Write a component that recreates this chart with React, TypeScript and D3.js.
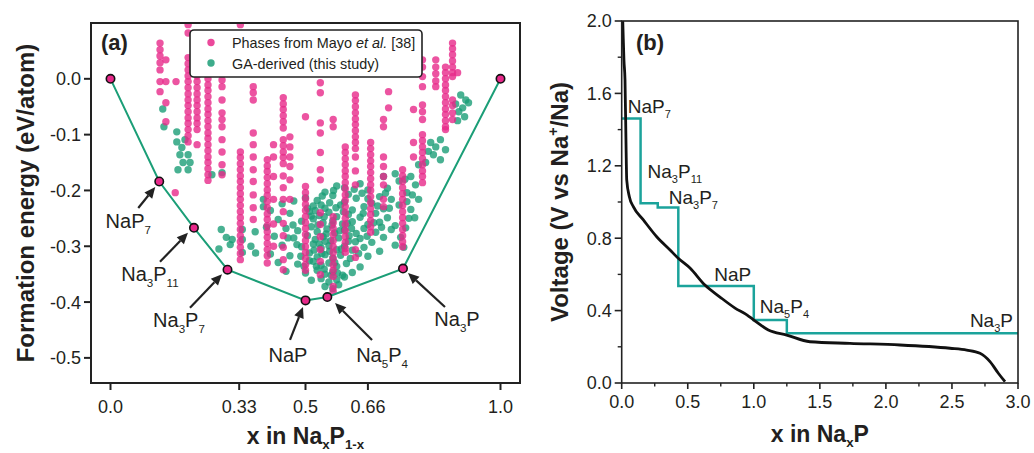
import React from "react";
import * as d3 from "d3";

// ---------- Panel (a) data ----------
const hullNames = ["P", "NaP_{7}", "Na_{3}P_{11}", "Na_{3}P_{7}", "NaP", "Na_{5}P_{4}", "Na_{3}P", "Na"];
const hullX = [0, 0.125, 0.214, 0.3, 0.5, 0.556, 0.75, 1.0];
const hullY = [0, -0.184, -0.267, -0.342, -0.397, -0.391, -0.34, 0];

const xTicksA = [0, 0.33, 0.5, 0.66, 1.0];
const xTickLabelsA = ["0.0", "0.33", "0.5", "0.66", "1.0"];
const yTicksA = [0, -0.1, -0.2, -0.3, -0.4, -0.5];
const yTickLabelsA = ["0.0", "-0.1", "-0.2", "-0.3", "-0.4", "-0.5"];

// Phases from Mayo et al. : columns of composition x with formation energies
const pinkColX = [0.127, 0.142, 0.166, 0.168, 0.199, 0.222, 0.25, 0.286, 0.333, 0.366, 0.402, 0.418, 0.443, 0.46, 0.5, 0.538, 0.571, 0.602, 0.628, 0.667, 0.7, 0.713, 0.749, 0.777, 0.8, 0.834, 0.859, 0.877, 0.89];
const pinkColY = [
  [0.064, 0.052, 0.041, 0.029, 0.016, -0.005, -0.023],
  [0.034, -0.005, -0.043, -0.077],
  [-0.204],
  [-0.005],
  [0.097, 0.082, 0.038, 0.027, 0.016, 0.005, -0.005, -0.016, -0.027, -0.038, -0.048, -0.059, -0.07, -0.08, -0.091, -0.102, -0.113],
  [0.016, 0.005, -0.005, -0.016, -0.027, -0.038, -0.048, -0.059, -0.07, -0.08, -0.091, -0.118],
  [0.021, 0.011, 0, -0.011, -0.021, -0.032, -0.043, -0.054, -0.064, -0.075, -0.086, -0.097, -0.107, -0.118, -0.129, -0.14, -0.15, -0.161, -0.172, -0.182],
  [0.016, -0.002, -0.014, -0.038, -0.061, -0.073, -0.086, -0.109, -0.131, -0.154, -0.172],
  [0.097, -0.131, -0.141, -0.152, -0.163, -0.174, -0.184, -0.195, -0.206, -0.216, -0.227, -0.238, -0.249, -0.259, -0.27, -0.281, -0.292, -0.302, -0.313, -0.324],
  [-0.014, -0.025, -0.038, -0.097, -0.118, -0.14, -0.163, -0.184, -0.208, -0.231, -0.252],
  [-0.145, -0.156, -0.166, -0.177, -0.188, -0.199, -0.209, -0.22, -0.231, -0.242, -0.252, -0.263, -0.274, -0.284, -0.295, -0.306, -0.317, -0.33],
  [-0.118, -0.14, -0.175, -0.216, -0.26, -0.3],
  [-0.034, -0.045, -0.055, -0.066, -0.077, -0.088, -0.109, -0.12, -0.131, -0.141, -0.152, -0.174, -0.195, -0.216, -0.238, -0.259, -0.281, -0.302, -0.324, -0.342],
  [-0.104, -0.122, -0.14, -0.157, -0.181, -0.216],
  [-0.068, -0.193, -0.204, -0.215, -0.225, -0.236, -0.247, -0.258, -0.268, -0.279, -0.29, -0.301, -0.311, -0.322, -0.333, -0.343],
  [-0.007, -0.025, -0.079, -0.097, -0.132, -0.163, -0.181, -0.24, -0.261, -0.283, -0.306, -0.327, -0.351],
  [-0.073, -0.086, -0.247, -0.258, -0.268, -0.279, -0.29, -0.301, -0.311, -0.322, -0.333, -0.343, -0.354, -0.372, -0.381],
  [-0.122, -0.132, -0.143, -0.154, -0.165, -0.175, -0.186, -0.197, -0.208, -0.218, -0.229, -0.24, -0.25, -0.261, -0.272, -0.283, -0.293, -0.304, -0.311],
  [-0.029, -0.039, -0.05, -0.061, -0.072, -0.082, -0.093, -0.104, -0.114, -0.125, -0.14, -0.165, -0.19, -0.306, -0.32],
  [-0.114, -0.125, -0.136, -0.147, -0.157, -0.168, -0.179, -0.19, -0.2, -0.211, -0.222, -0.233, -0.243, -0.254, -0.265, -0.275],
  [-0.073, -0.086, -0.14, -0.157, -0.175, -0.19, -0.216, -0.229],
  [-0.023, -0.052],
  [-0.163, -0.174, -0.184, -0.195, -0.206, -0.216, -0.227, -0.238, -0.249, -0.259, -0.27, -0.281, -0.292, -0.301],
  [-0.055, -0.114, -0.14],
  [0.034, 0.021, 0.004, -0.014, -0.047, -0.059, -0.073, -0.1, -0.111, -0.122, -0.132, -0.143, -0.154, -0.165, -0.175, -0.186],
  [0.034, 0.021, 0.009, -0.004, -0.014],
  [0.021, 0.011, 0, -0.011, -0.021, -0.032, -0.043, -0.054, -0.064, -0.075, -0.086, -0.091],
  [0.064, 0.054, 0.043, 0.032, 0.021, 0.011, 0.004, -0.038, -0.048, -0.061, -0.073],
  [0.011],
];

// GA-derived structures (this study): [x, formation energy]
const greenPoints: [number, number][] = [
  [0.134, -0.054], [0.137, -0.086], [0.17, -0.095], [0.17, -0.113], [0.183, -0.123], [0.191, -0.109], [0.178, -0.136],
  [0.199, -0.136], [0.186, -0.15], [0.204, -0.15], [0.173, -0.163], [0.199, -0.163], [0.26, -0.172], [0.286, -0.168],
  [0.284, -0.27], [0.297, -0.284], [0.307, -0.297], [0.312, -0.288], [0.278, -0.305], [0.338, -0.27], [0.338, -0.288],
  [0.338, -0.311], [0.371, -0.274], [0.392, -0.216], [0.392, -0.229], [0.36, -0.3], [0.372, -0.312],
  [0.58, -0.192], [0.64, -0.188], [0.71, -0.196], [0.74, -0.183], [0.70, -0.175], [0.73, -0.17], [0.755, -0.18],
  [0.55, -0.203], [0.61, -0.207], [0.66, -0.199], [0.69, -0.211], [0.76, -0.204],
  [0.50, -0.213], [0.53, -0.218], [0.57, -0.209], [0.60, -0.221], [0.63, -0.214], [0.67, -0.223], [0.72, -0.216],
  [0.44, -0.224], [0.47, -0.219], [0.52, -0.228], [0.55, -0.232], [0.59, -0.226], [0.62, -0.235], [0.65, -0.229], [0.70, -0.233], [0.74, -0.226],
  [0.41, -0.236], [0.46, -0.241], [0.51, -0.238], [0.535, -0.245], [0.56, -0.239], [0.58, -0.247], [0.61, -0.243], [0.64, -0.248], [0.68, -0.241], [0.71, -0.249],
  [0.43, -0.252], [0.49, -0.255], [0.52, -0.251], [0.545, -0.258], [0.57, -0.254], [0.595, -0.26], [0.62, -0.256], [0.66, -0.261], [0.69, -0.257], [0.73, -0.263],
  [0.40, -0.266], [0.45, -0.268], [0.48, -0.272], [0.515, -0.265], [0.53, -0.274], [0.555, -0.269], [0.575, -0.276], [0.60, -0.271], [0.63, -0.277], [0.65, -0.268], [0.68, -0.275], [0.72, -0.27],
  [0.42, -0.282], [0.47, -0.285], [0.505, -0.281], [0.525, -0.288], [0.545, -0.283], [0.565, -0.29], [0.585, -0.285], [0.61, -0.291], [0.64, -0.286], [0.67, -0.293], [0.70, -0.284],
  [0.44, -0.298], [0.49, -0.301], [0.52, -0.296], [0.54, -0.303], [0.56, -0.299], [0.58, -0.306], [0.60, -0.3], [0.62, -0.307], [0.65, -0.302], [0.69, -0.309], [0.73, -0.298],
  [0.41, -0.314], [0.46, -0.317], [0.51, -0.312], [0.53, -0.319], [0.55, -0.315], [0.57, -0.321], [0.59, -0.316], [0.615, -0.322], [0.66, -0.318],
  [0.43, -0.329], [0.48, -0.332], [0.52, -0.327], [0.54, -0.334], [0.56, -0.33], [0.58, -0.336], [0.605, -0.331], [0.64, -0.337],
  [0.45, -0.345], [0.50, -0.348], [0.53, -0.343], [0.55, -0.35], [0.57, -0.346], [0.595, -0.352], [0.62, -0.347],
  [0.515, -0.361], [0.54, -0.358], [0.56, -0.364], [0.58, -0.36], [0.60, -0.355],
  [0.55, -0.372], [0.57, -0.376], [0.585, -0.369],
  [0.505, -0.232], [0.515, -0.246], [0.525, -0.236], [0.54, -0.226], [0.548, -0.247], [0.562, -0.222], [0.568, -0.262],
  [0.578, -0.231], [0.588, -0.272], [0.597, -0.238], [0.607, -0.259], [0.612, -0.281], [0.55, -0.291], [0.535, -0.296],
  [0.522, -0.307], [0.542, -0.313], [0.562, -0.309], [0.575, -0.329], [0.592, -0.305], [0.528, -0.336], [0.548, -0.341],
  [0.566, -0.352], [0.582, -0.348], [0.51, -0.326], [0.496, -0.336], [0.488, -0.318], [0.478, -0.297], [0.468, -0.262],
  [0.455, -0.285], [0.532, -0.262], [0.553, -0.278], [0.618, -0.268], [0.628, -0.292], [0.636, -0.313], [0.648, -0.241],
  [0.658, -0.282], [0.675, -0.258], [0.685, -0.228], [0.695, -0.266], [0.705, -0.205], [0.715, -0.232], [0.66, -0.215],
  [0.645, -0.205], [0.625, -0.198], [0.6, -0.195], [0.572, -0.2], [0.543, -0.21],
  [0.77, -0.175], [0.782, -0.19], [0.774, -0.208], [0.79, -0.216], [0.77, -0.234], [0.78, -0.249], [0.757, -0.267], [0.744, -0.284], [0.752, -0.302], [0.76, -0.22], [0.765, -0.25],
  [0.821, -0.114], [0.834, -0.122], [0.846, -0.109], [0.859, -0.127], [0.828, -0.136], [0.846, -0.145], [0.808, -0.15], [0.79, -0.154], [0.815, -0.13],
  [0.898, -0.029], [0.911, -0.038], [0.903, -0.052], [0.918, -0.043], [0.893, -0.059], [0.908, -0.068], [0.885, -0.045], [0.89, -0.075],
];

// ---------- Panel (b) data ----------
const stepPhases = ["NaP_{7}", "Na_{3}P_{11}", "Na_{3}P_{7}", "NaP", "Na_{5}P_{4}", "Na_{3}P"];
const stepX = [0, 1 / 7, 3 / 11, 3 / 7, 1, 1.25, 3];
const stepV = [1.462, 0.993, 0.969, 0.536, 0.348, 0.275, 0.275];

const curveX = [0.008, 0.012, 0.017, 0.025, 0.033, 0.038, 0.058, 0.088, 0.164, 0.265, 0.366, 0.428, 0.517, 0.63, 0.744, 0.858, 0.95, 1.0, 1.11, 1.249, 1.425, 1.728, 2.107, 2.485, 2.612, 2.712, 2.788, 2.851, 2.902];
const curveV = [2.0, 1.9, 1.785, 1.674, 1.304, 1.122, 1.029, 0.974, 0.901, 0.808, 0.735, 0.689, 0.635, 0.541, 0.475, 0.414, 0.375, 0.348, 0.293, 0.265, 0.228, 0.219, 0.21, 0.192, 0.182, 0.164, 0.118, 0.054, 0.007];

const xTicksB = [0, 0.5, 1, 1.5, 2, 2.5, 3];
const xMinorB = [0.25, 0.75, 1.25, 1.75, 2.25, 2.75];
const yTicksB = [0, 0.4, 0.8, 1.2, 1.6, 2.0];
const yMinorB = [0.2, 0.6, 1.0, 1.4, 1.8];

// ---------- layout (pixels) ----------
const annA = [
  { i: 1, t: [-21, 26.5], h: [-4, 5.5], l: [-31, 46.5] },
  { i: 2, t: [-34, 34], h: [-6, 5], l: [-44, 53] },
  { i: 3, t: [-37.5, 38], h: [-5.5, 4.5], l: [-48.5, 57] },
  { i: 4, t: [-15.5, 39.5], h: [-2.5, 6.5], l: [-17.5, 61.5] },
  { i: 5, t: [44.7, 43], h: [7.7, 6], l: [54.7, 65] },
  { i: 6, t: [42, 38.4], h: [5, 4.4], l: [54, 57.4] },
];
const annB = [
  { dx: 6, dy: -5, anchor: "start", atEnd: false },
  { dx: 7, dy: -25, anchor: "start", atEnd: false },
  { dx: 11, dy: -4, anchor: "start", atEnd: false },
  { dx: 36, dy: -5, anchor: "start", atEnd: false },
  { dx: 6, dy: -7, anchor: "start", atEnd: false },
  { dx: -5, dy: -6, anchor: "end", atEnd: true },
];

const FONT = "'Liberation Sans', Arial, Helvetica, sans-serif";
const TXT = "#231f20";
const PINK = "#e7298a";
const GREEN = "#1b9e77";
const TEAL = "#1ba39b";

function Rich(props: any) {
  const { text, x, y, size, anchor = "start", weight = "normal", transform, sub = 0.3 } = props;
  const parts = String(text).split(/(_\{[^}]*\}|\^\{[^}]*\}|\*\{[^}]*\})/).filter((s: string) => s !== "");
  let shift = 0;
  const spans = parts.map((p: string, k: number) => {
    if (p.startsWith("_{")) {
      const target = size * sub;
      const d = target - shift;
      shift = target;
      return (
        <tspan key={k} fontSize={size * 0.58} dy={d}>
          {p.slice(2, -1)}
        </tspan>
      );
    }
    if (p.startsWith("^{")) {
      const target = -size * 0.42;
      const d = target - shift;
      shift = target;
      return (
        <tspan key={k} fontSize={size * 0.6} dy={d}>
          {p.slice(2, -1)}
        </tspan>
      );
    }
    const d = -shift;
    shift = 0;
    if (p.startsWith("*{")) {
      return (
        <tspan key={k} dy={d} fontStyle="italic">
          {p.slice(2, -1)}
        </tspan>
      );
    }
    return (
      <tspan key={k} dy={d}>
        {p}
      </tspan>
    );
  });
  return (
    <text x={x} y={y} fontSize={size} textAnchor={anchor} fontWeight={weight} fontFamily={FONT} fill={TXT} transform={transform}>
      {spans}
    </text>
  );
}

function arrowHead(x1: number, y1: number, x2: number, y2: number, len = 11, half = 5) {
  const a = Math.atan2(y2 - y1, x2 - x1);
  const bx = x2 - len * Math.cos(a);
  const by = y2 - len * Math.sin(a);
  const px = -Math.sin(a) * half;
  const py = Math.cos(a) * half;
  return { path: `M${x2},${y2}L${bx + px},${by + py}L${bx - px},${by - py}Z`, bx, by };
}

export default function App() {
  const W = 1034;
  const H = 453;
  const A = { l: 91, r: 520, t: 23, b: 383 };
  const B = { l: 621.7, r: 1018, t: 21, b: 383 };

  const xA = d3.scaleLinear().domain([-0.05, 1.05]).range([A.l, A.r]);
  const yA = d3.scaleLinear().domain([-0.545, 0.1]).range([A.b, A.t]);
  const xB = d3.scaleLinear().domain([0, 3]).range([B.l, B.r]);
  const yB = d3.scaleLinear().domain([0, 2]).range([B.b, B.t]);

  const pinkPts: [number, number][] = [];
  pinkColX.forEach((x, i) => pinkColY[i].forEach((y) => pinkPts.push([x, y])));

  const hullLine = d3
    .line<number>()
    .x((_, i) => xA(hullX[i]))
    .y((_, i) => yA(hullY[i]))(hullX) as string;

  const stepLine = d3
    .line<number>()
    .x((_, i) => xB(stepX[i]))
    .y((_, i) => yB(stepV[i]))
    .curve(d3.curveStepAfter)(stepX) as string;

  const vLine = d3
    .line<number>()
    .x((_, i) => xB(curveX[i]))
    .y((_, i) => yB(curveV[i]))
    .curve(d3.curveMonotoneX)(curveX) as string;

  return (
    <svg width={W} height={H} style={{ position: "absolute", left: 0, top: 0, background: "#fff" }} fontFamily={FONT}>
      <defs>
        <clipPath id="clipA">
          <rect x={A.l} y={A.t} width={A.r - A.l} height={A.b - A.t} />
        </clipPath>
        <clipPath id="clipB">
          <rect x={B.l} y={B.t - 1} width={B.r - B.l} height={B.b - B.t + 1} />
        </clipPath>
      </defs>

      {/* ---------------- Panel (a) ---------------- */}
      <g clipPath="url(#clipA)">
        {greenPoints.map(([x, y], i) => (
          <circle key={"g" + i} cx={xA(x)} cy={yA(y)} r={3.7} fill={GREEN} fillOpacity={0.8} />
        ))}
        {pinkPts.map(([x, y], i) => (
          <circle key={"p" + i} cx={xA(x)} cy={yA(y)} r={3.7} fill={PINK} fillOpacity={0.8} />
        ))}
      </g>
      <path d={hullLine} fill="none" stroke={GREEN} strokeWidth={2} />
      {hullX.map((x, i) => (
        <circle key={"h" + i} cx={xA(x)} cy={yA(hullY[i])} r={4.2} fill={PINK} stroke="#111" strokeWidth={1.6} />
      ))}
      {annA.map((a, k) => {
        const cx = xA(hullX[a.i]);
        const cy = yA(hullY[a.i]);
        const tx = cx + a.t[0];
        const ty = cy + a.t[1];
        const hx = cx + a.h[0];
        const hy = cy + a.h[1];
        const ah = arrowHead(tx, ty, hx, hy, 11, 5);
        return (
          <g key={"a" + k}>
            <line x1={tx} y1={ty} x2={ah.bx} y2={ah.by} stroke="#222" strokeWidth={2.2} />
            <path d={ah.path} fill="#222" />
            <Rich text={hullNames[a.i]} x={cx + a.l[0]} y={cy + a.l[1]} size={20} anchor="middle" />
          </g>
        );
      })}
      <rect x={A.l} y={A.t} width={A.r - A.l} height={A.b - A.t} fill="none" stroke="#222" strokeWidth={2} />
      {yTicksA.map((v, i) => (
        <g key={"ya" + i}>
          <line x1={A.l - 7} x2={A.l} y1={yA(v)} y2={yA(v)} stroke="#222" strokeWidth={2} />
          <text x={A.l - 10} y={yA(v)} dy="0.36em" fontSize={18} textAnchor="end" fill={TXT}>
            {yTickLabelsA[i]}
          </text>
        </g>
      ))}
      {xTicksA.map((v, i) => (
        <g key={"xa" + i}>
          <line x1={xA(v)} x2={xA(v)} y1={A.b} y2={A.b + 7} stroke="#222" strokeWidth={2} />
          <text x={xA(v)} y={413} fontSize={18} textAnchor="middle" fill={TXT}>
            {xTickLabelsA[i]}
          </text>
        </g>
      ))}
      <Rich text="x in Na_{x}P_{1-x}" x={(A.l + A.r) / 2} y={444} size={23} weight="bold" anchor="middle" sub={0.22} />
      <Rich text="Formation energy (eV/atom)" x={34} y={(A.t + A.b) / 2} size={24} weight="bold" anchor="middle" transform={`rotate(-90 34 ${(A.t + A.b) / 2})`} />
      <text x={101} y={50} fontSize={22} fontWeight="bold" fill={TXT}>
        (a)
      </text>
      {/* legend */}
      <rect x={190} y={30} width={232} height={47} rx={4} fill="#fff" stroke="#222" strokeWidth={1.6} />
      <circle cx={211} cy={42.5} r={3.7} fill={PINK} fillOpacity={0.85} />
      <circle cx={211} cy={63} r={3.7} fill={GREEN} fillOpacity={0.85} />
      <Rich text="Phases from Mayo *{et al.} [38]" x={232} y={48} size={14.4} />
      <Rich text="GA-derived (this study)" x={232} y={68.5} size={14.4} />

      {/* ---------------- Panel (b) ---------------- */}
      <g clipPath="url(#clipB)">
        <path d={stepLine} fill="none" stroke={TEAL} strokeWidth={2.5} />
        <path d={vLine} fill="none" stroke="#111" strokeWidth={2.8} />
      </g>
      {annB.map((a, i) => {
        const sx = a.atEnd ? xB(stepX[i + 1]) : xB(stepX[i]);
        const sy = yB(stepV[i]);
        return <Rich key={"b" + i} text={stepPhases[i]} x={sx + a.dx} y={sy + a.dy} size={19} anchor={a.anchor} sub={0.26} />;
      })}
      <rect x={B.l} y={B.t} width={B.r - B.l} height={B.b - B.t} fill="none" stroke="#222" strokeWidth={1.6} />
      {yTicksB.map((v, i) => (
        <g key={"yb" + i}>
          <line x1={B.l - 7} x2={B.l} y1={yB(v)} y2={yB(v)} stroke="#222" strokeWidth={1.6} />
          <text x={B.l - 10} y={yB(v)} dy="0.36em" fontSize={18} textAnchor="end" fill={TXT}>
            {d3.format(".1f")(v)}
          </text>
        </g>
      ))}
      {yMinorB.map((v, i) => (
        <line key={"ybm" + i} x1={B.l - 4} x2={B.l} y1={yB(v)} y2={yB(v)} stroke="#222" strokeWidth={1.4} />
      ))}
      {xTicksB.map((v, i) => (
        <g key={"xb" + i}>
          <line x1={xB(v)} x2={xB(v)} y1={B.b} y2={B.b + 6} stroke="#222" strokeWidth={1.6} />
          <text x={xB(v)} y={408} fontSize={18} textAnchor="middle" fill={TXT}>
            {d3.format(".1f")(v)}
          </text>
        </g>
      ))}
      {xMinorB.map((v, i) => (
        <line key={"xbm" + i} x1={xB(v)} x2={xB(v)} y1={B.b} y2={B.b + 3.5} stroke="#222" strokeWidth={1.4} />
      ))}
      <Rich text="x in Na_{x}P" x={(B.l + B.r) / 2} y={442} size={23} weight="bold" anchor="middle" sub={0.22} />
      <Rich text="Voltage (V vs Na^{+}/Na)" x={568} y={(B.t + B.b) / 2} size={24} weight="bold" anchor="middle" transform={`rotate(-90 568 ${(B.t + B.b) / 2})`} />
      <text x={636} y={50} fontSize={22} fontWeight="bold" fill={TXT}>
        (b)
      </text>
    </svg>
  );
}
